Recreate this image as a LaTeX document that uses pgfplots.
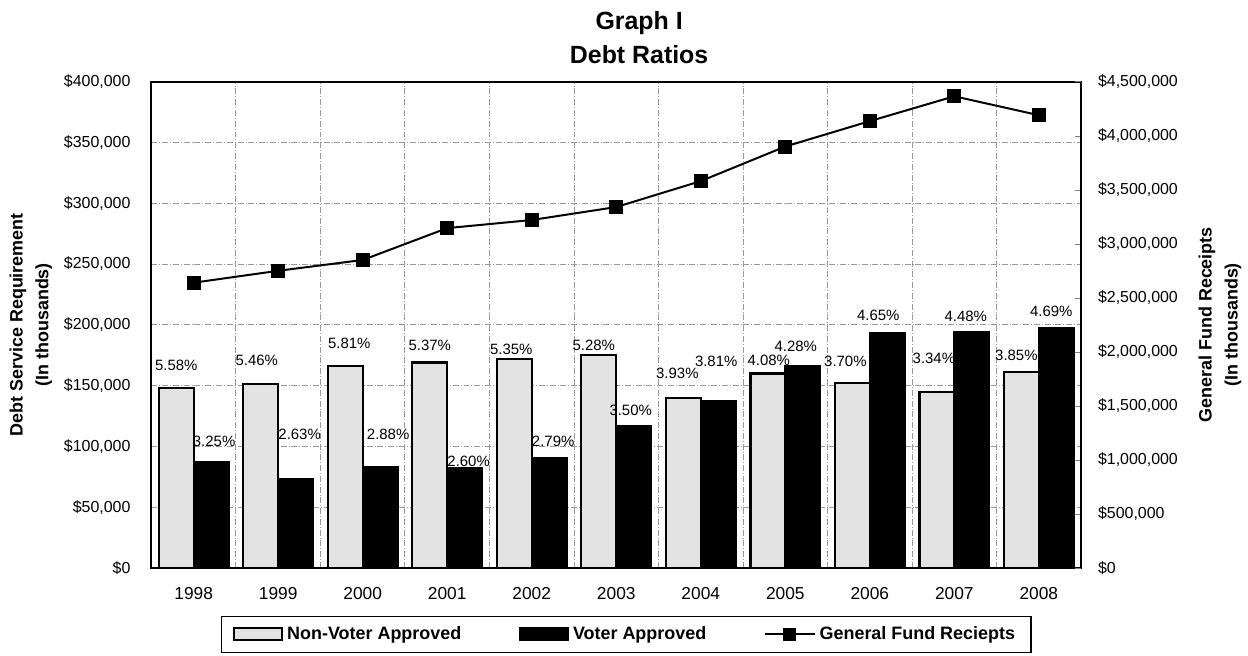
\documentclass[border=0pt]{standalone}
\usepackage{pgfplots}
\pgfplotsset{compat=1.18}
\usepackage{pgfplotstable}
\usepackage{fontspec}
\setmainfont{Liberation Sans}

\pgfplotstableread{
x nv pnv dxn dyn v pv dxv dyv
0 148000 5.58 0 11.5 87000 3.25 1.5 10.5
1 151000 5.46 -2 12 73000 2.63 2 22.5
2 166000 5.81 2 11.5 83000 2.88 4 16.5
3 169000 5.37 0 8.5 82000 2.60 2 3.5
4 172000 5.35 -1.5 5 90000 2.79 2 8.5
5 175000 5.28 -2.5 5 117000 3.50 -1.5 7.5
6 140000 3.93 -3 12 137000 3.81 -1 20
7 160000 4.08 0.5 6.5 166000 4.28 -3.5 10
8 152000 3.70 -3.5 11 193000 4.65 -4.5 9
9 145000 3.34 -1.5 16.5 194000 4.48 -3 8
10 161000 3.85 -2.5 8.5 197000 4.69 -2.5 8.5
}\debt

\pgfplotstableread{
x g
0 2640000
1 2750000
2 2850000
3 3145000
4 3220000
5 3340000
6 3580000
7 3900000
8 4135000
9 4365000
10 4190000
}\fund

\begin{document}
\begin{tikzpicture}
\begin{axis}[
  name=ax,
  scale only axis, width=466.5pt, height=244pt,
  xmin=-0.5, xmax=10.5, ymin=0, ymax=400000,
  ybar=0pt, bar width=17.5pt,
  axis line style={line width=1pt},
  xtick={0,1,2,3,4,5,6,7,8,9,10},
  xticklabels={1998,1999,2000,2001,2002,2003,2004,2005,2006,2007,2008},
  minor xtick={0.5,1.5,2.5,3.5,4.5,5.5,6.5,7.5,8.5,9.5},
  xminorgrids=true, ymajorgrids=true,
  grid style={gray!80, densely dash dot, line width=0.5pt},
  major tick length=0pt, minor tick length=0pt,
  ytick={0,50000,100000,150000,200000,250000,300000,350000,400000},
  ytick pos=left, xtick pos=bottom,
  scaled y ticks=false,
  /pgf/number format/assume math mode=true,
  yticklabel={\$\pgfmathprintnumber[fixed,1000 sep={,}]{\tick}},
  yticklabel style={font=\fontsize{8}{10}\selectfont, xshift=-7pt},
  xticklabel style={font=\fontsize{8.7}{10}\selectfont, yshift=-6pt},
  ylabel={Debt Service Requirement\\(In thousands)},
  ylabel style={align=center, font=\bfseries\fontsize{9}{13}\selectfont,
    at={(axis description cs:-0.1297,0.5)}, anchor=center},
  title={Graph I\\Debt Ratios},
  title style={align=center, font=\bfseries\fontsize{12.5}{17}\selectfont,
    at={(axis description cs:0.5246,1)}, anchor=south, yshift=-0.5pt},
  legend columns=3,
  legend style={at={(axis description cs:0.5107,-0.0984)}, anchor=north,
    draw=black, line width=0.6pt, font=\bfseries\fontsize{9}{11}\selectfont,
    inner xsep=6pt, inner ysep=3pt,
    /tikz/every even column/.append style={column sep=27pt}},
  legend cell align=left,
]
\addplot[fill=gray!22, draw=black, line width=1.1pt,
  visualization depends on={\thisrow{dxn} \as \dxa},
  visualization depends on={\thisrow{dyn} \as \dya},
  point meta=explicit,
  nodes near coords={\pgfmathprintnumber[fixed,fixed zerofill,precision=2]{\pgfplotspointmeta}\%},
  nodes near coords style={anchor=center, inner sep=0pt, xshift=\dxa pt, yshift=\dya pt,
    font=\fontsize{7.5}{9}\selectfont, text=black},
  legend image code/.code={\draw[fill=gray!22, draw=black, line width=1pt] (0pt,-3pt) rectangle (24pt,3pt);},
] table[x=x, y=nv, meta=pnv]{\debt};
\addlegendentry{Non-Voter Approved}
\addplot[fill=black, draw=black, line width=1.1pt,
  visualization depends on={\thisrow{dxv} \as \dxb},
  visualization depends on={\thisrow{dyv} \as \dyb},
  point meta=explicit,
  nodes near coords={\pgfmathprintnumber[fixed,fixed zerofill,precision=2]{\pgfplotspointmeta}\%},
  nodes near coords style={anchor=center, inner sep=0pt, xshift=\dxb pt, yshift=\dyb pt,
    font=\fontsize{7.5}{9}\selectfont, text=black},
  legend image code/.code={\draw[fill=black, draw=black] (0pt,-3pt) rectangle (24pt,3pt);},
] table[x=x, y=v, meta=pv]{\debt};
\addlegendentry{Voter Approved}
\addlegendimage{legend image code/.code={
  \draw[black, line width=0.9pt] (0pt,0pt) -- (25pt,0pt);
  \fill[black] (9.5pt,-3pt) rectangle (15.5pt,3pt);}}
\addlegendentry{General Fund Reciepts}
\end{axis}
\begin{axis}[
  scale only axis, width=466.5pt, height=244pt,
  xmin=-0.5, xmax=10.5, ymin=0, ymax=4500000,
  axis x line=none, axis y line*=right,
  axis line style={line width=1pt},
  ytick={0,500000,1000000,1500000,2000000,2500000,3000000,3500000,4000000,4500000},
  major tick length=3pt,
  scaled y ticks=false,
  /pgf/number format/assume math mode=true,
  yticklabel={\$\pgfmathprintnumber[fixed,1000 sep={,}]{\tick}},
  yticklabel style={font=\fontsize{8}{10}\selectfont, xshift=5pt},
  ylabel={General Fund Receipts\\(In thousands)},
  ylabel style={align=center, font=\bfseries\fontsize{9}{13}\selectfont,
    at={(axis description cs:1.1495,0.5)}, anchor=center},
]
\addplot[black, line width=1pt, mark=square*, mark size=3pt] table[x=x, y=g]{\fund};
\end{axis}
\path[use as bounding box] ([xshift=-76pt,yshift=-44pt]ax.south west) rectangle ([xshift=81.5pt,yshift=41pt]ax.north east);
\end{tikzpicture}
\end{document}
